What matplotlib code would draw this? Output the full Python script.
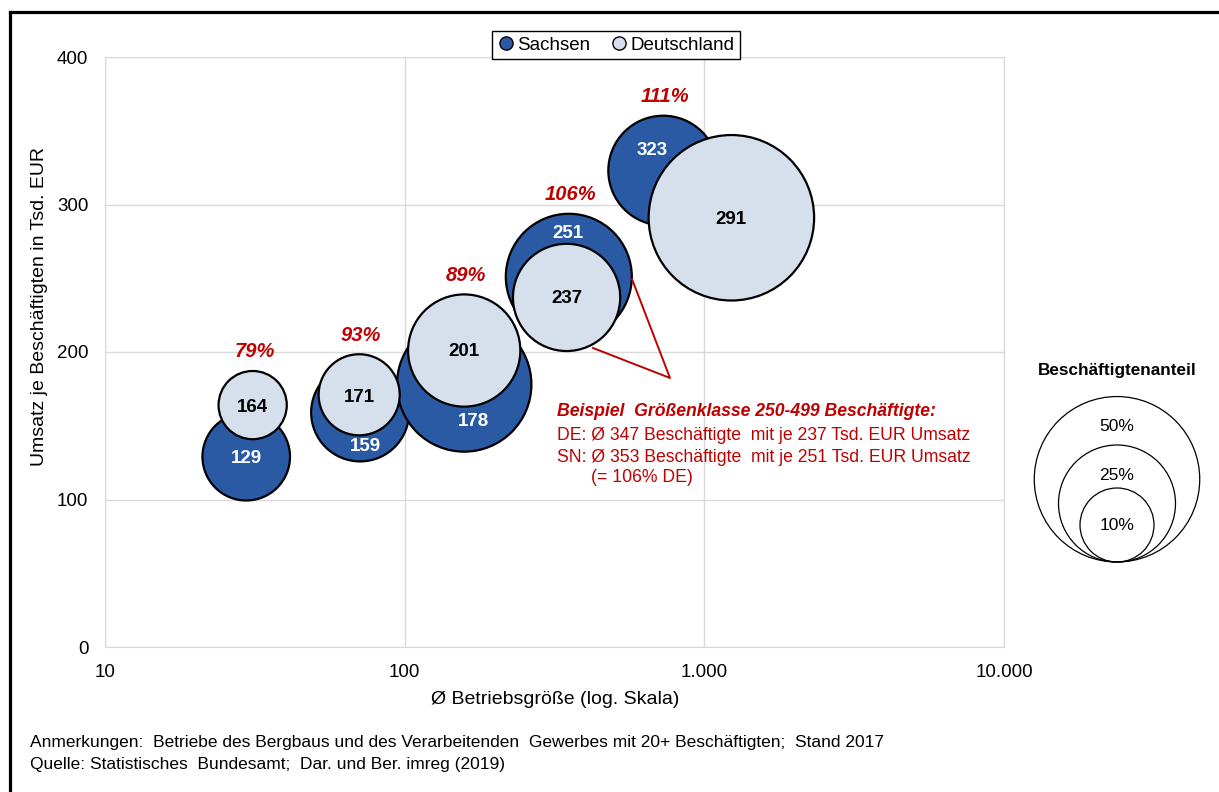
import numpy as np
import matplotlib
matplotlib.use("Agg")
import matplotlib.pyplot as plt
from matplotlib.lines import Line2D
from matplotlib.patches import Circle
from matplotlib.ticker import FixedLocator, FixedFormatter, NullLocator

plt.rcParams["font.family"] = ["Liberation Sans", "DejaVu Sans"]

# ---- data ----
sn_size = [29.6, 71, 158, 353, 729]          # Ø Betriebsgröße Sachsen
sn_turnover = [129, 159, 178, 251, 323]      # Umsatz je Beschäftigten, Tsd. EUR
sn_share = [14, 17.5, 33, 29, 22]            # Beschäftigtenanteil in %

de_size = [31.1, 70.5, 158, 347, 1231]
de_turnover = [164, 171, 201, 237, 291]
de_share = [8.5, 12, 23, 21, 50]

legend_shares = [50, 25, 10]

x_ticks = [10, 100, 1000, 10000]
x_tick_labels = ["10", "100", "1.000", "10.000"]
y_ticks = [0, 100, 200, 300, 400]

# ---- layout / style ----
W, H = 1219, 792
SN_COLOR = "#2B5AA4"
DE_COLOR = "#D6DFEC"
RED = "#C00000"
GRID = "#D9D9D9"
R_SCALE = 117  # bubble radius in px for a share of 100 %

# manual label nudges (pixels) like in the original
sn_label_off = [(0, -2), (5, -34), (9, -37), (-1, 43), (-11, 20)]
de_label_off = [(0, -2), (0, -3), (0, -1), (0, -1), (0, -2)]


def radius_px(share):
    return R_SCALE * np.sqrt(share / 100.0)


def size_pt2(share):
    return (2 * radius_px(share) * 72 / 100.0) ** 2


fig = plt.figure(figsize=(W / 100, H / 100), dpi=100)
ax = fig.add_axes([105 / W, 1 - 647 / H, (1004 - 105) / W, (647 - 57) / H])

ax.set_xscale("log")
ax.set_xlim(10, 10000)
ax.set_ylim(0, 400)
ax.xaxis.set_major_locator(FixedLocator(x_ticks))
ax.xaxis.set_major_formatter(FixedFormatter(x_tick_labels))
ax.xaxis.set_minor_locator(NullLocator())
ax.set_yticks(y_ticks)
ax.tick_params(length=0, labelsize=13.5, pad=12)
ax.grid(True, color=GRID, lw=1)
ax.set_axisbelow(True)
for sp in ax.spines.values():
    sp.set_color(GRID)

# ---- bubbles: Sachsen behind, Deutschland on top ----
ax.scatter(sn_size, sn_turnover, s=[size_pt2(s) for s in sn_share],
           c=SN_COLOR, edgecolors="black", linewidths=1.6, zorder=3)
ax.scatter(de_size, de_turnover, s=[size_pt2(s) for s in de_share],
           c=DE_COLOR, edgecolors="black", linewidths=1.6, zorder=4)

for x, y, off in zip(sn_size, sn_turnover, sn_label_off):
    ax.annotate(str(y), (x, y), xytext=off, textcoords="offset pixels",
                ha="center", va="center", color="white",
                fontsize=13.5, fontweight="bold", zorder=5)
for x, y, off in zip(de_size, de_turnover, de_label_off):
    ax.annotate(str(y), (x, y), xytext=off, textcoords="offset pixels",
                ha="center", va="center", color="black",
                fontsize=13.5, fontweight="bold", zorder=5)

# ratio Sachsen / Deutschland above each pair
for i in range(len(sn_turnover)):
    ratio = round(100 * sn_turnover[i] / de_turnover[i])
    sn_top = sn_turnover[i] * 1.475 + radius_px(sn_share[i])
    de_top = de_turnover[i] * 1.475 + radius_px(de_share[i])
    if sn_top >= de_top:
        x, y, r = sn_size[i], sn_turnover[i], radius_px(sn_share[i])
    else:
        x, y, r = de_size[i], de_turnover[i], radius_px(de_share[i])
    ax.annotate(f"{ratio}%", (x, y), xytext=(2, r + 19),
                textcoords="offset pixels", ha="center", va="center",
                color=RED, fontsize=14.5, fontweight="bold", style="italic",
                zorder=6)

# ---- series legend ----
handles = [
    Line2D([], [], ls="", marker="o", ms=9.5, mfc=SN_COLOR, mec="black", mew=1),
    Line2D([], [], ls="", marker="o", ms=9.5, mfc=DE_COLOR, mec="black", mew=1),
]
leg = ax.legend(handles, ["Sachsen", "Deutschland"], ncol=2, loc="center",
                bbox_to_anchor=(616 / W, 1 - 45 / H),
                bbox_transform=fig.transFigure, fontsize=13.5,
                frameon=True, fancybox=False, framealpha=1,
                edgecolor="black", borderpad=0.3, handlelength=0.9,
                handletextpad=0.15, columnspacing=1.1)
leg.get_frame().set_linewidth(1)

# ---- overlay in pixel coords for frame, callout, size legend, notes ----
ov = fig.add_axes([0, 0, 1, 1])
ov.set_xlim(0, W)
ov.set_ylim(H, 0)
ov.axis("off")
ov.patch.set_alpha(0)

ov.plot([10, W], [12, 12], color="black", lw=2.3)
ov.plot([10, 10], [12, H], color="black", lw=2.3)

fig.text(40 / W, 1 - 307 / H, "Umsatz je Beschäftigten in Tsd. EUR",
         rotation=90, ha="center", va="center", fontsize=14)
fig.text(555 / W, 1 - 700 / H, "Ø Betriebsgröße (log. Skala)",
         ha="center", va="center", fontsize=14)

# callout for size class 250-499
ov.plot([632, 670, 593], [279, 378, 348], color=RED, lw=1.4)
ov.text(557, 412, "Beispiel  Größenklasse 250-499 Beschäftigte:", color=RED,
        fontsize=12.7, fontweight="bold", style="italic", va="center")
ov.text(557, 435, "DE: Ø 347 Beschäftigte  mit je 237 Tsd. EUR Umsatz",
        color=RED, fontsize=12.7, va="center")
ov.text(557, 457, "SN: Ø 353 Beschäftigte  mit je 251 Tsd. EUR Umsatz",
        color=RED, fontsize=12.7, va="center")
ov.text(591, 478, "(= 106% DE)", color=RED, fontsize=12.7, va="center")

# bubble size legend
cx, base = 1117, 562
ov.text(cx, 370, "Beschäftigtenanteil", ha="center", va="center",
        fontsize=12.3, fontweight="bold")
for p in legend_shares:
    r = radius_px(p)
    ov.add_patch(Circle((cx, base - r), r, fill=False, ec="black", lw=0.9))
    ty = base - r if p == legend_shares[-1] else base - 2 * r + 30
    ov.text(cx, ty, f"{p}%", ha="center", va="center", fontsize=12.5)

# notes
ov.text(30, 743, "Anmerkungen:  Betriebe des Bergbaus und des Verarbeitenden  "
        "Gewerbes mit 20+ Beschäftigten;  Stand 2017",
        fontsize=12.5, va="center")
ov.text(30, 765, "Quelle: Statistisches  Bundesamt;  Dar. und Ber. imreg (2019)",
        fontsize=12.5, va="center")

fig.savefig("out.png", dpi=100)
